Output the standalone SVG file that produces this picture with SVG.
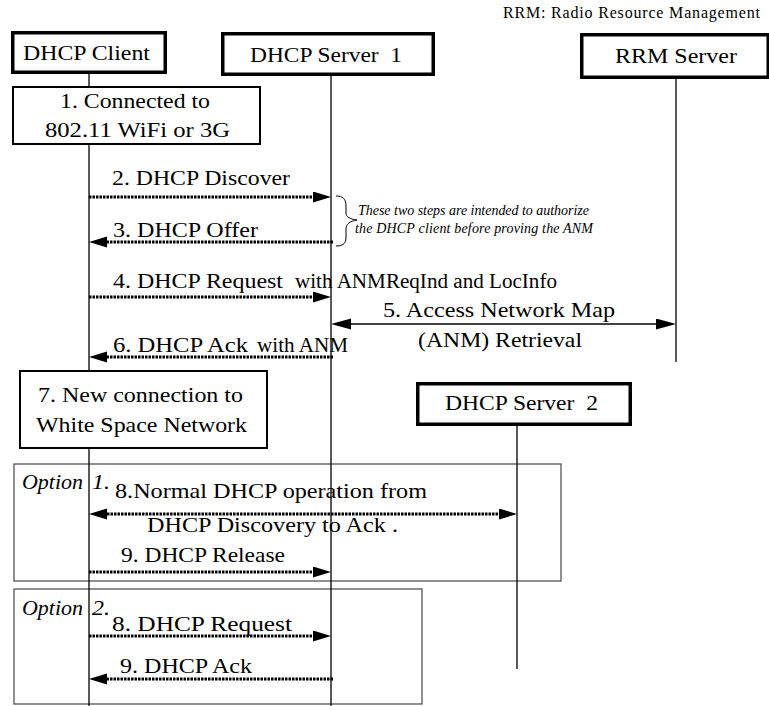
<svg xmlns="http://www.w3.org/2000/svg" width="769" height="706" viewBox="0 0 769 706" font-family="'Liberation Serif', serif">
<style>
text{font-family:"Liberation Serif",serif;fill:#000}
.big{font-family:"Liberation Serif",serif;font-size:21px}
.mid{font-family:"Liberation Serif",serif;font-size:20px}
.op{font-family:"Liberation Serif",serif;font-size:21px;font-style:italic}
.it{font-family:"Liberation Serif",serif;font-style:italic}
.ent{fill:#fff;stroke:#000;stroke-width:3.5}
.step{fill:#fff;stroke:#000;stroke-width:2}
.opt{fill:none;stroke:#555;stroke-width:1.3}
.life{stroke:#000;stroke-width:1.3;fill:none}
.dot{stroke:#000;stroke-width:3;stroke-dasharray:2.5 1;fill:none}
.sol{stroke:#000;stroke-width:1.5;fill:none}
</style>
<defs>
<marker id="ah" markerUnits="userSpaceOnUse" markerWidth="19" markerHeight="12" refX="0" refY="5.5" orient="auto-start-reverse">
<path d="M0,0 L18,5.5 L0,11 z" fill="#000"/>
</marker>
<marker id="ahs" markerUnits="userSpaceOnUse" markerWidth="21" markerHeight="12" refX="0" refY="5.5" orient="auto-start-reverse">
<path d="M0,0 L20,5.5 L0,11 z" fill="#000"/>
</marker>
</defs>
<rect width="769" height="706" fill="#fff"/>

<g id="note-rrm">
<text x="503" y="18" style="font-size:16px" textLength="257">RRM: Radio Resource Management</text>
</g>

<g id="option-frames">
<g id="option1"><rect class="opt" x="14" y="464" width="547" height="117"/>
<text class="op" x="22" y="489" textLength="61" lengthAdjust="spacingAndGlyphs">Option</text>
<text class="op" x="92" y="489" textLength="18" lengthAdjust="spacingAndGlyphs">1.</text></g>
<g id="option2"><rect class="opt" x="14" y="589" width="408" height="115"/>
<text class="op" x="22" y="615" textLength="61" lengthAdjust="spacingAndGlyphs">Option</text>
<text class="op" x="92" y="615" textLength="18" lengthAdjust="spacingAndGlyphs">2.</text></g>
</g>

<g id="lifelines">
<line class="life" x1="89" y1="74" x2="89" y2="706"/>
<line class="life" x1="331" y1="76" x2="331" y2="706"/>
<line class="life" x1="676" y1="79" x2="676" y2="362"/>
<line class="life" x1="517" y1="426" x2="517" y2="669"/>
</g>

<g id="dhcp-client"><rect class="ent" x="12.75" y="32.75" width="152.5" height="39.5"/>
<text class="big" x="23" y="60" textLength="127" lengthAdjust="spacingAndGlyphs">DHCP Client</text></g>
<g id="dhcp-server1"><rect class="ent" x="222.75" y="33.75" width="210.5" height="40.5"/>
<text class="big" x="250" y="62" textLength="152" lengthAdjust="spacingAndGlyphs" xml:space="preserve">DHCP Server  1</text></g>
<g id="rrm-server"><rect class="ent" x="581.75" y="34.75" width="186.5" height="42.5"/>
<text class="big" x="615" y="63" textLength="122" lengthAdjust="spacingAndGlyphs">RRM Server</text></g>
<g id="dhcp-server2"><rect class="ent" x="417.75" y="383.75" width="212.5" height="40.5"/>
<text class="big" x="445" y="410" textLength="153" lengthAdjust="spacingAndGlyphs" xml:space="preserve">DHCP Server  2</text></g>

<g id="step1"><rect class="step" x="13" y="87" width="247" height="57"/>
<text class="big" x="60" y="108" textLength="150" lengthAdjust="spacingAndGlyphs">1. Connected to</text>
<text class="big" x="45" y="137" textLength="185" lengthAdjust="spacingAndGlyphs">802.11 WiFi or 3G</text></g>
<g id="step7"><rect class="step" x="20" y="371" width="247" height="77"/>
<text class="big" x="38" y="402" textLength="205" lengthAdjust="spacingAndGlyphs">7. New connection to</text>
<text class="big" x="36" y="432" textLength="211" lengthAdjust="spacingAndGlyphs">White Space Network</text></g>

<g id="note-brace">
<path d="M336,196 C343,196 346,199 346,206 L346,213 C346,217 350,219 357,220 C350,221 346,224 346,229 L346,238 C346,244 342,246 336,246" fill="none" stroke="#000" stroke-width="1"/>
<text class="it" style="font-size:14px" x="358" y="215" textLength="231">These two steps are intended to authorize</text>
<text class="it" style="font-size:14px" x="355" y="233" textLength="238">the DHCP client before proving the ANM</text>
</g>

<g id="connectors">
<line class="dot" x1="89" y1="197" x2="313" y2="197" marker-end="url(#ah)"/>
<text class="big" x="112" y="185" textLength="178" lengthAdjust="spacingAndGlyphs">2. DHCP Discover</text>
<line class="dot" x1="333" y1="242" x2="107" y2="242" marker-end="url(#ah)"/>
<text class="big" x="113" y="237" textLength="145" lengthAdjust="spacingAndGlyphs">3. DHCP Offer</text>
<line class="dot" x1="89" y1="297" x2="313" y2="297" marker-end="url(#ah)"/>
<text class="big" x="113" y="288" textLength="170" lengthAdjust="spacingAndGlyphs">4. DHCP Request</text>
<text class="mid" x="295" y="288" textLength="262" lengthAdjust="spacingAndGlyphs">with ANMReqInd and LocInfo</text>
<line class="sol" x1="351" y1="324" x2="656" y2="324" marker-start="url(#ahs)" marker-end="url(#ahs)"/>
<text class="big" x="383" y="317" textLength="232" lengthAdjust="spacingAndGlyphs">5. Access Network Map</text>
<text class="big" x="418" y="347" textLength="164" lengthAdjust="spacingAndGlyphs">(ANM) Retrieval</text>
<line class="dot" x1="333" y1="357" x2="107" y2="357" marker-end="url(#ah)"/>
<text class="big" x="113" y="352" textLength="135" lengthAdjust="spacingAndGlyphs">6. DHCP Ack</text>
<text class="mid" x="257" y="352" textLength="91" lengthAdjust="spacingAndGlyphs">with ANM</text>
<line class="dot" x1="107" y1="514" x2="499" y2="514" marker-start="url(#ah)" marker-end="url(#ah)"/>
<text class="big" x="115" y="498" textLength="312" lengthAdjust="spacingAndGlyphs">8.Normal DHCP operation from</text>
<text class="big" x="147" y="532" textLength="251" lengthAdjust="spacingAndGlyphs">DHCP Discovery to Ack .</text>
<line class="dot" x1="89" y1="572" x2="313" y2="572" marker-end="url(#ah)"/>
<text class="big" x="121" y="562" textLength="164" lengthAdjust="spacingAndGlyphs">9. DHCP Release</text>
<line class="dot" x1="89" y1="636" x2="313" y2="636" marker-end="url(#ah)"/>
<text class="big" x="112" y="631" textLength="180" lengthAdjust="spacingAndGlyphs">8. DHCP Request</text>
<line class="dot" x1="333" y1="679" x2="107" y2="679" marker-end="url(#ah)"/>
<text class="big" x="120" y="673" textLength="132" lengthAdjust="spacingAndGlyphs">9. DHCP Ack</text>
</g>
</svg>
